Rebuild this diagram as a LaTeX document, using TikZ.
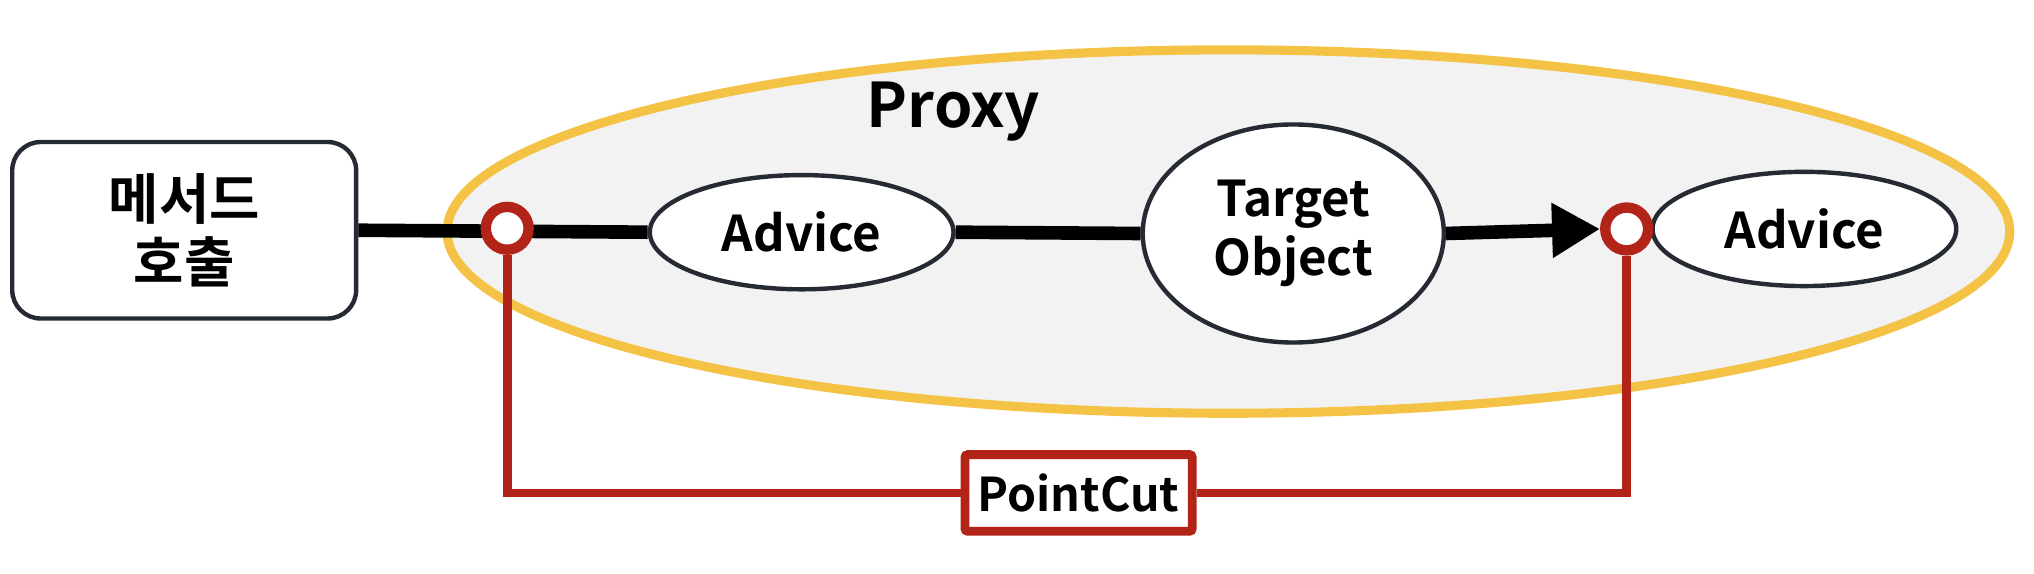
\documentclass[tikz,border=0pt]{standalone}
\usepackage{fontspec}
\setmainfont{Noto Sans CJK KR}[BoldFont={Noto Sans CJK KR Bold}]
\usepackage{xcolor}
\usepackage{tikz}
\usetikzlibrary{shapes.geometric,arrows.meta}
\definecolor{cutred}{HTML}{B22418}
\definecolor{proxyyellow}{HTML}{F4C244}
\definecolor{proxygray}{HTML}{F2F2F2}
\definecolor{edgedark}{HTML}{262A33}

\begin{document}
\begin{tikzpicture}[x=0.01cm,y=-0.01cm,
    obj/.style={ellipse,draw=edgedark,line width=0.034cm,fill=white,inner sep=0pt,
      align=center,font=\bfseries\fontsize{10.8}{13}\selectfont},
    joint/.style={circle,draw=cutred,line width=0.08cm,fill=white,inner sep=0pt,minimum size=0.33cm},
    flow/.style={line width=0.105cm},
    cut/.style={draw=cutred,line width=0.068cm}]
    \useasboundingbox (0,0) rectangle (1568,442.5);

    % proxy
    \node[ellipse,draw=proxyyellow,fill=proxygray,line width=0.07cm,
      minimum width=12.04cm,minimum height=2.8cm] (proxy) at (947,178.5) {};
    \node[font=\bfseries\fontsize{13.5}{15}\selectfont] (proxylabel) at (735,86) {Proxy};

    \node[draw=edgedark,line width=0.034cm,rounded corners=0.22cm,fill=white,
      minimum width=2.65cm,minimum height=1.36cm,align=center,
      font=\bfseries\fontsize{12}{14}\selectfont] (method) at (142,177.5) {메서드\\호출};

    \node[obj,minimum width=2.34cm,minimum height=0.88cm] (adviceA) at (618,179) {Advice};
    \node[obj,minimum width=2.32cm,minimum height=1.68cm] (target) at (997,180) {Target\\Object};
    \node[obj,minimum width=2.34cm,minimum height=0.88cm] (adviceB) at (1391,176.5) {Advice};

    \draw[flow] (method.east) -- (adviceA.west);
    \draw[flow] (adviceA.east) -- (target.west);
    \node[joint] (jpA) at (391,176) {};
    \node[joint] (jpB) at (1254,176.5) {};
    \draw[flow,-{Triangle[length=0.37cm,width=0.4cm]}] (target.east) -- (jpB.west);

    % pointcut
    \node[draw=cutred,line width=0.068cm,rounded corners=0.02cm,fill=white,
      minimum width=1.75cm,minimum height=0.59cm,inner xsep=0.08cm,
      font=\bfseries\fontsize{10.2}{12}\selectfont] (pointcut) at (831.5,380) {PointCut};
    \draw[cut] (jpA.south) |- (pointcut.west);
    \draw[cut] (jpB.south) |- (pointcut.east);
\end{tikzpicture}
\end{document}
